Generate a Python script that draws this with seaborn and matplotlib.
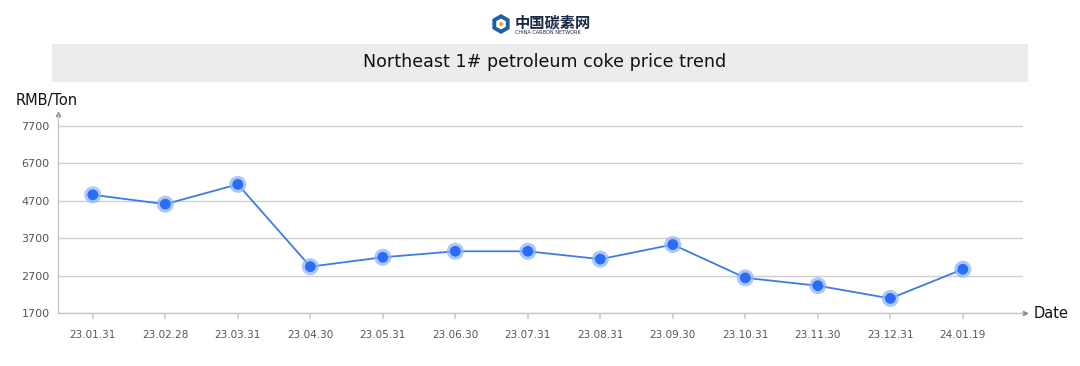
import matplotlib
matplotlib.use("Agg")
import matplotlib.pyplot as plt
import matplotlib.patches as mpatches
import pandas as pd
import seaborn as sns

# datos
fechas = ["23.01.31", "23.02.28", "23.03.31", "23.04.30", "23.05.31", "23.06.30",
          "23.07.31", "23.08.31", "23.09.30", "23.10.31", "23.11.30", "23.12.31", "24.01.19"]
precios = [4860, 4610, 5140, 2940, 3190, 3350, 3350, 3140, 3530, 2640, 2430, 2090, 2870]
y_ticks = [1700, 2700, 3700, 4700, 5700, 6700]
y_labels = ["1700", "2700", "3700", "4700", "6700", "7700"]

df = pd.DataFrame({"fecha": fechas, "precio": precios})

sns.set_theme(style="white")
plt.rcParams["font.family"] = ["DejaVu Sans", "Noto Sans CJK SC"]

fig = plt.figure(figsize=(10.8, 3.66), dpi=100)
ax = fig.add_axes([58 / 1080, 1 - 313 / 366, (1023 - 58) / 1080, (313 - 114) / 366])

ax.set_yticks(y_ticks)
ax.yaxis.grid(True, color="#cfcfcf", linewidth=1)
ax.set_axisbelow(True)

sns.lineplot(data=df, x="fecha", y="precio", ax=ax, color="#3d7be6", linewidth=1.3, sort=False)
sns.scatterplot(data=df, x="fecha", y="precio", ax=ax, color="#8fb5fb", s=150,
                edgecolor="none", alpha=0.75, zorder=3)
sns.scatterplot(data=df, x="fecha", y="precio", ax=ax, color="#2a6cf6", s=60,
                edgecolor="none", zorder=4)

ax.set_xlim(-0.48, 12.83)
ax.set_ylim(1700, 1700 + (313 - 114) / 37.4 * 1000)
ax.set_yticks(y_ticks)
ax.set_yticklabels(y_labels, fontsize=8, color="#555555")
ax.tick_params(axis="x", labelsize=7.5, labelcolor="#555555", length=4, color="#cccccc",
               direction="out", bottom=True, pad=8)
ax.tick_params(axis="y", length=0, pad=6)
ax.set_xlabel("")
ax.set_ylabel("")

for s in ["top", "right"]:
    ax.spines[s].set_visible(False)
for s in ["left", "bottom"]:
    ax.spines[s].set_color("#c8c8c8")
    ax.spines[s].set_linewidth(1)

# flechas de los ejes
ax.plot(1.002, 0, marker=">", transform=ax.transAxes, color="#888888", markersize=3,
        clip_on=False)
ax.plot(0, 1.0, marker="^", transform=ax.transAxes, color="#888888", markersize=3,
        clip_on=False)

fig.text(16 / 1080, 1 - 100 / 366, "RMB/Ton", fontsize=10.5, color="#111111", va="center")
fig.text(1034 / 1080, 1 - 313 / 366, "Date", fontsize=10.5, color="#111111", va="center")

# caja del título
fig.patches.append(mpatches.Rectangle((52 / 1080, 1 - 82 / 366), (1028 - 52) / 1080, 38 / 366,
                                      transform=fig.transFigure, facecolor="#ececec",
                                      edgecolor="none"))
fig.text(545 / 1080, 1 - 62 / 366, "Northeast 1# petroleum coke price trend", fontsize=12.6,
         ha="center", va="center", color="#111111")

# logo
lax = fig.add_axes([490 / 1080, 1 - 36 / 366, 22 / 1080, 24 / 366])
lax.set_xlim(-1.1, 1.1)
lax.set_ylim(-1.2, 1.2)
lax.set_aspect("equal")
lax.axis("off")
lax.add_patch(mpatches.RegularPolygon((0, 0), 6, radius=1.0, facecolor="#1f5fa8",
                                      edgecolor="none"))
lax.add_patch(mpatches.RegularPolygon((0, 0), 6, radius=0.55, facecolor="white",
                                      edgecolor="none"))
lax.add_patch(mpatches.RegularPolygon((0, 0), 4, radius=0.25, facecolor="#f0a020",
                                      edgecolor="none"))
fig.text(515 / 1080, 1 - 22 / 366, "中国碳素网", fontsize=11, fontweight="bold",
         color="#1a2a44", family=["Noto Sans CJK SC", "DejaVu Sans"], va="center")
fig.text(515 / 1080, 1 - 33 / 366, "CHINA CARBON NETWORK", fontsize=3.6, color="#1a2a44",
         va="center")

fig.savefig("out.png", dpi=100)
